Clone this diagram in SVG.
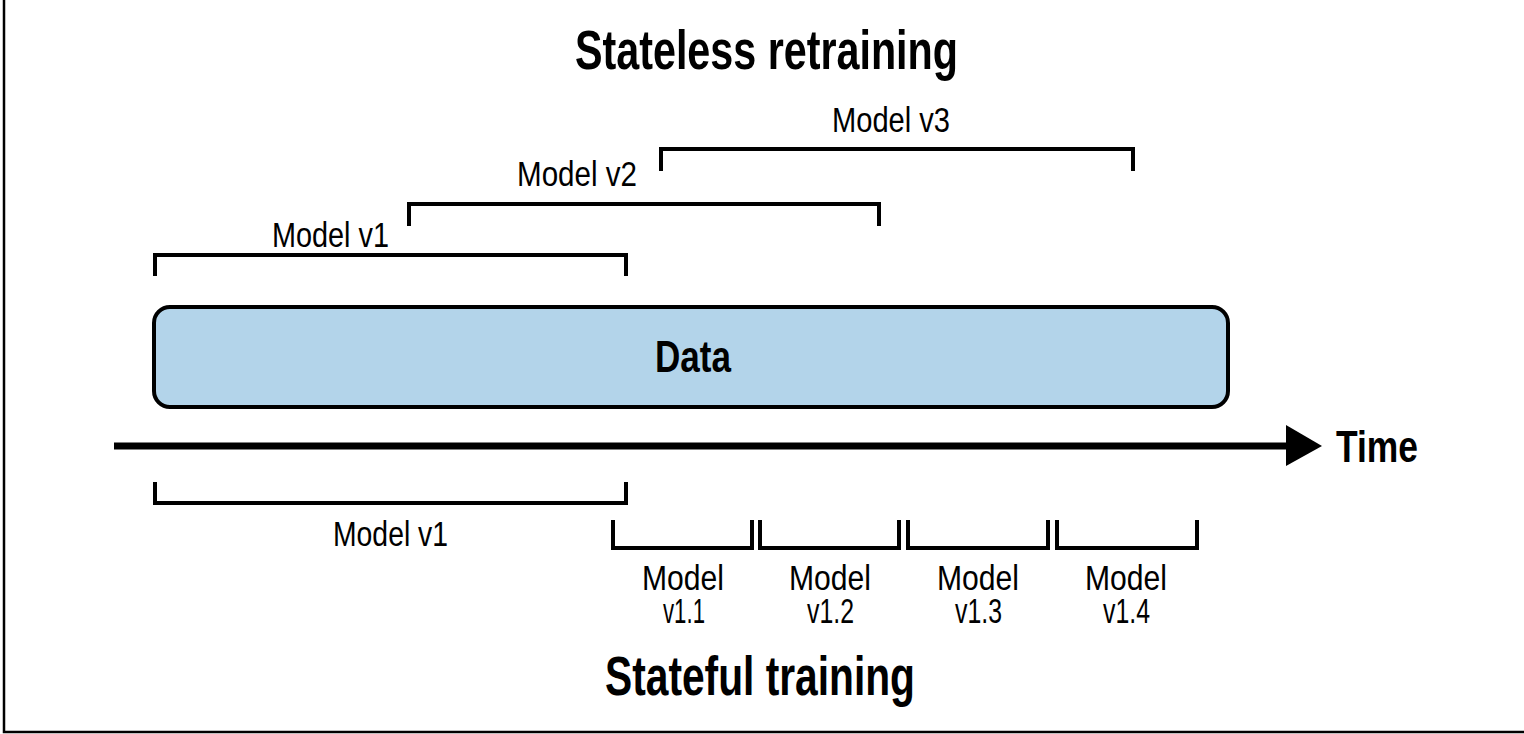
<svg xmlns="http://www.w3.org/2000/svg" width="1524" height="734" viewBox="0 0 1524 734">
<style>
.br{fill:none;stroke:#000;stroke-width:4;stroke-linejoin:miter;stroke-linecap:butt}
.lbl{font-family:"Liberation Sans",Arial,sans-serif;font-size:35px;fill:#000}
.ttl{font-family:"Liberation Sans",Arial,sans-serif;font-size:56px;font-weight:bold;fill:#000}
.big{font-family:"Liberation Sans",Arial,sans-serif;font-size:45px;font-weight:bold;fill:#000}
</style>
<rect x="0" y="0" width="1524" height="734" fill="#fff"/>
<path d="M4 0 V732 H1524" fill="none" stroke="#000" stroke-width="2.5"/>

<g id="title-stateless"><text class="ttl" x="575" y="69" textLength="383" lengthAdjust="spacingAndGlyphs">Stateless retraining</text></g>
<g id="title-stateful"><text class="ttl" x="605" y="695" textLength="310" lengthAdjust="spacingAndGlyphs">Stateful training</text></g>

<g id="data">
<rect x="154" y="307" width="1074" height="100" rx="16" fill="#b3d4ea" stroke="#000" stroke-width="4"/>
<text class="big" x="655" y="372" textLength="76" lengthAdjust="spacingAndGlyphs">Data</text>
</g>

<g id="connectors">
<line x1="114" y1="446" x2="1290" y2="446" stroke="#000" stroke-width="7"/>
<polygon points="1286,425 1322,446 1286,466" fill="#000"/>
<path class="br" d="M155 276 V255 H626 V276"/>
<path class="br" d="M409 226 V204 H879 V226"/>
<path class="br" d="M661 171 V149 H1133 V171"/>
<path class="br" d="M155 482 V503 H626 V482"/>
<path class="br" d="M613 520 V548 H752 V520"/>
<path class="br" d="M760 520 V548 H899 V520"/>
<path class="br" d="M908 520 V548 H1048 V520"/>
<path class="br" d="M1057 520 V548 H1197 V520"/>
</g>

<g id="time"><text class="big" x="1336" y="462" textLength="82" lengthAdjust="spacingAndGlyphs">Time</text></g>

<g id="top-v1"><text class="lbl" x="272" y="247" textLength="117" lengthAdjust="spacingAndGlyphs">Model v1</text></g>
<g id="top-v2"><text class="lbl" x="517" y="186" textLength="120" lengthAdjust="spacingAndGlyphs">Model v2</text></g>
<g id="top-v3"><text class="lbl" x="832" y="132" textLength="118" lengthAdjust="spacingAndGlyphs">Model v3</text></g>
<g id="bottom-v1"><text class="lbl" x="333" y="546" textLength="115" lengthAdjust="spacingAndGlyphs">Model v1</text></g>

<g id="v1-1"><text class="lbl" x="642" y="590" textLength="82" lengthAdjust="spacingAndGlyphs">Model</text><text class="lbl" x="663" y="623" textLength="42" lengthAdjust="spacingAndGlyphs">v1.1</text></g>
<g id="v1-2"><text class="lbl" x="789" y="590" textLength="82" lengthAdjust="spacingAndGlyphs">Model</text><text class="lbl" x="807" y="623" textLength="47" lengthAdjust="spacingAndGlyphs">v1.2</text></g>
<g id="v1-3"><text class="lbl" x="937" y="590" textLength="82" lengthAdjust="spacingAndGlyphs">Model</text><text class="lbl" x="955" y="623" textLength="47" lengthAdjust="spacingAndGlyphs">v1.3</text></g>
<g id="v1-4"><text class="lbl" x="1085" y="590" textLength="82" lengthAdjust="spacingAndGlyphs">Model</text><text class="lbl" x="1103" y="623" textLength="47" lengthAdjust="spacingAndGlyphs">v1.4</text></g>
</svg>
